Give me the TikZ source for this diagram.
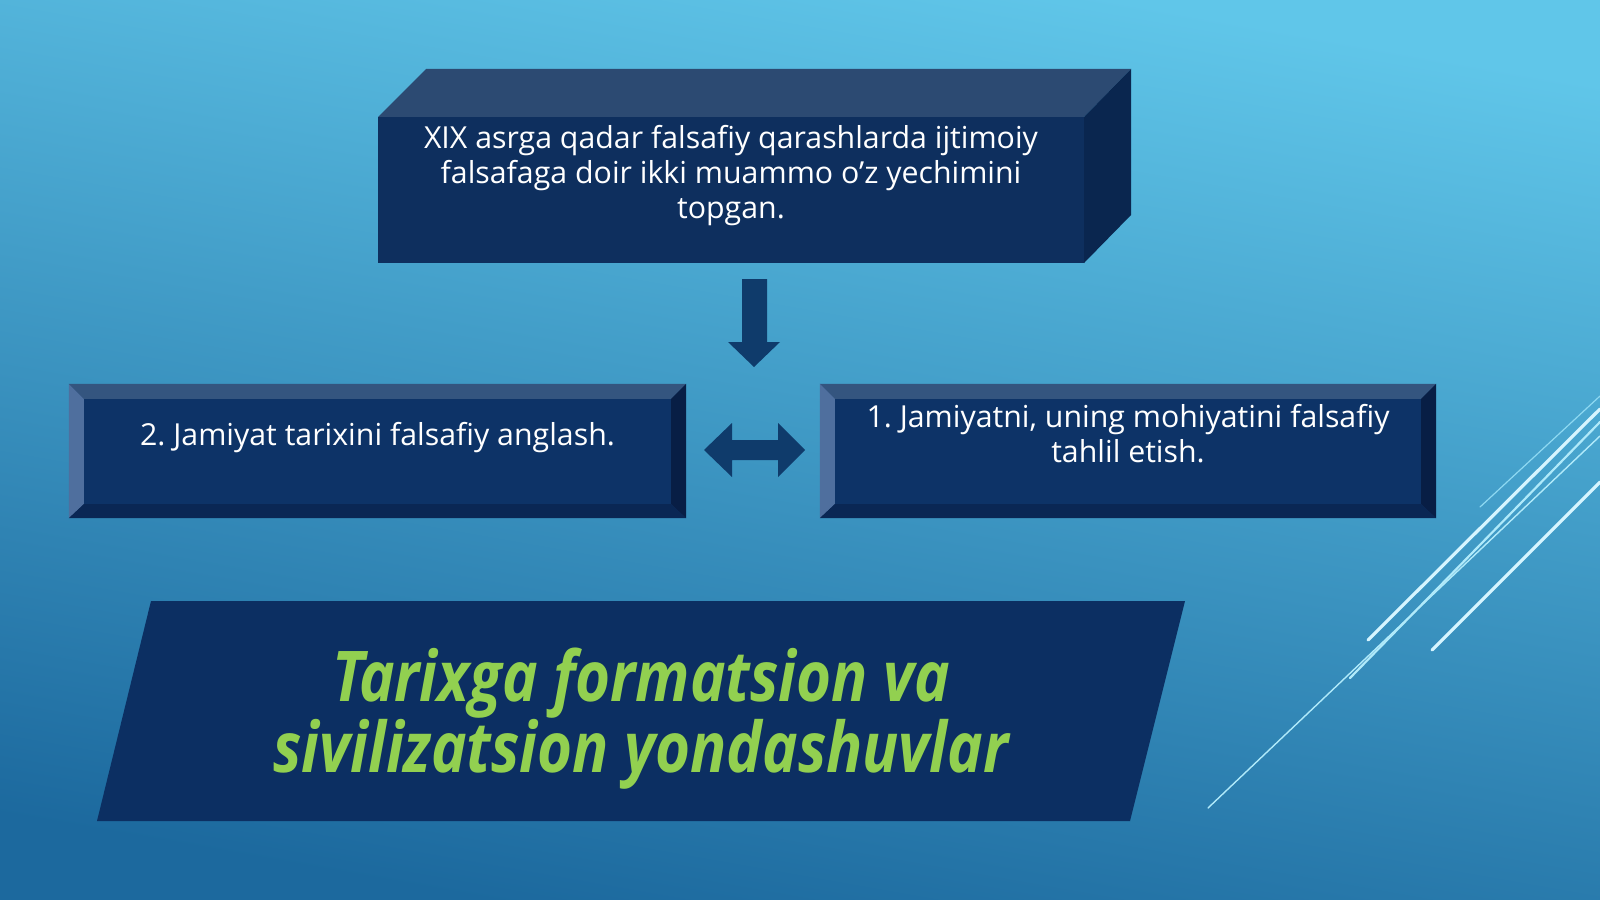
\documentclass[tikz,border=0pt]{standalone}
\usepackage{fontspec}
\setmainfont{Open Sans}
\newfontfamily\titlefont[FakeStretch=0.857]{Open Sans}
\usetikzlibrary{positioning}

\definecolor{bgtop}{HTML}{60C6E9}
\definecolor{bgbot}{HTML}{1C699E}
\definecolor{cubefront}{HTML}{0E2F5E}
\definecolor{cubetop}{HTML}{2C4A72}
\definecolor{cubeside}{HTML}{0A264F}
\definecolor{bevelface}{HTML}{0D3367}
\definecolor{beveltop}{HTML}{34557F}
\definecolor{bevelleft}{HTML}{4F6F9E}
\definecolor{bevelright}{HTML}{081E45}
\definecolor{bevelbottom}{HTML}{0A2754}
\definecolor{arrowblue}{HTML}{0F3B6B}
\definecolor{titlefill}{HTML}{0C2F62}
\definecolor{titlegreen}{HTML}{92D050}
\definecolor{trailbright}{HTML}{D6F5FF}
\definecolor{trailmid}{HTML}{B0EAFA}
\definecolor{trailfaint}{HTML}{8ED9F2}

% bevelled box around a named node
\newcommand{\bevel}[1]{%
  \fill[beveltop] (#1.north west) -- (#1.north east) -- ([shift={(-15,15)}]#1.north east) -- ([shift={(15,15)}]#1.north west) -- cycle;
  \fill[bevelleft] (#1.north west) -- ([shift={(15,15)}]#1.north west) -- ([shift={(15,-14)}]#1.south west) -- (#1.south west) -- cycle;
  \fill[bevelright] (#1.north east) -- ([shift={(-15,15)}]#1.north east) -- ([shift={(-15,-14)}]#1.south east) -- (#1.south east) -- cycle;
  \fill[bevelbottom] (#1.south west) -- ([shift={(15,-14)}]#1.south west) -- ([shift={(-15,-14)}]#1.south east) -- (#1.south east) -- cycle;
}

\begin{document}
\frenchspacing
\begin{tikzpicture}[x=1pt, y=-1pt,
    boxtext/.style={text=white, align=center, inner sep=0pt, font=\fontsize{30.3}{35}\selectfont},
    titletext/.style={text=titlegreen, align=center, inner sep=0pt, font=\titlefont\bfseries\itshape\fontsize{70}{69}\selectfont},
    bevelbox/.style={fill=bevelface, inner sep=0pt, minimum width=617pt, minimum height=134pt},
    trail/.style={line cap=round}]

    % Background
    \shade[top color=bgtop, bottom color=bgbot, shading angle=-10] (0,0) rectangle (1600,899);
    \useasboundingbox (0,0) rectangle (1600,899);

    % Vapor trail lines
    \draw[trail, line width=1.2pt, trailfaint] (1600,396) -- (1480,507);
    \draw[trail, line width=3.2pt, trailbright] (1600,409) -- (1368,640);
    \draw[trail, line width=2.2pt, trailmid] (1600,422) -- (1350,678);
    \draw[trail, line width=1.4pt, trailmid] (1600,436) -- (1208,808);
    \draw[trail, line width=3.2pt, trailbright] (1600,482) -- (1432,650);

    % Top box (cube)
    \fill[cubetop] (378,117) -- (426,69) -- (1131,69) -- (1084,117) -- cycle;
    \fill[cubeside] (1084,117) -- (1131,69) -- (1131,215) -- (1084,263) -- cycle;
    \fill[cubefront] (378,117) rectangle (1084,263);
    \node[boxtext] (problems) at (731,176)
        {XIX asrga qadar falsafiy qarashlarda ijtimoiy\\
         falsafaga doir ikki muammo o’z yechimini\\
         topgan.};

    % Down arrow
    \fill[arrowblue] (742,279) -- (767,279) -- (767,342) -- (780,342) -- (754,367)
        -- (728,342) -- (742,342) -- cycle;

    % Left box
    \node[bevelbox] (history) at (377.5,451) {};
    \bevel{history}
    \node[boxtext, anchor=base] (historytext) at (377.5,445)
        {2. Jamiyat tarixini falsafiy anglash.};

    % Right box
    \node[bevelbox, minimum width=616pt] (society) at (1128,451) {};
    \bevel{society}
    \node[boxtext] (societytext) at (1128,434)
        {1. Jamiyatni, uning mohiyatini falsafiy\\ tahlil etish.};

    % Double arrow
    \fill[arrowblue] (704,450) -- (732,423) -- (732,440) -- (778,440) -- (778,423)
        -- (805,450) -- (778,477) -- (778,460) -- (732,460) -- (732,477) -- cycle;

    % Title band
    \fill[titlefill] (151,601) -- (1185,601) -- (1130,821) -- (97,821) -- cycle;
    \node[titletext] (title) at (641,719)
        {Tarixga formatsion va\\ sivilizatsion yondashuvlar};

\end{tikzpicture}
\end{document}
